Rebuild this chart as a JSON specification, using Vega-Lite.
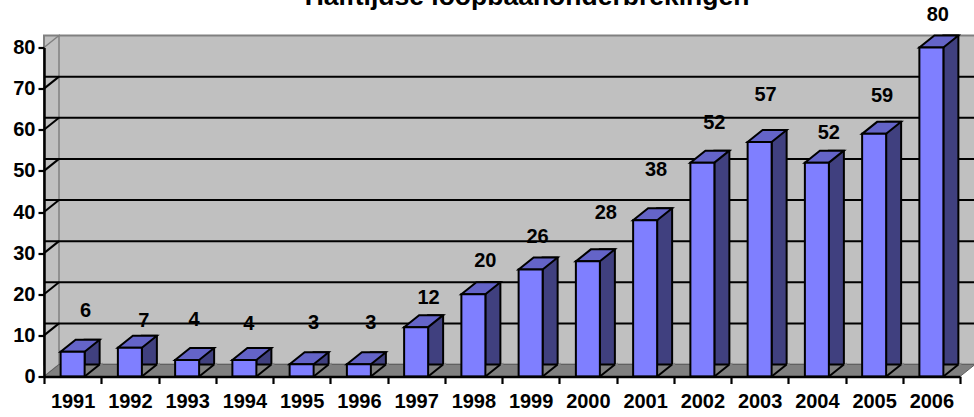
{"$schema":"https://vega.github.io/schema/vega-lite/v6.json","width":916,"height":329,"autosize":"none","padding":{"left":44,"top":47.5,"right":14,"bottom":40.5},"background":"white","view":{"stroke":null},
"title":{"text":"Halftijdse loopbaanonderbrekingen","font":"Liberation Sans","fontSize":26.5,"fontWeight":"bold","color":"black","anchor":"middle","dx":25,"dy":27,"offset":0,"baseline":"alphabetic"},
"config":{"font":"Liberation Sans"},
"data":{"values":[{"year":1991,"value":6},{"year":1992,"value":7},{"year":1993,"value":4},{"year":1994,"value":4},{"year":1995,"value":3},{"year":1996,"value":3},{"year":1997,"value":12},{"year":1998,"value":20},{"year":1999,"value":26},{"year":2000,"value":28},{"year":2001,"value":38},{"year":2002,"value":52},{"year":2003,"value":57},{"year":2004,"value":52},{"year":2005,"value":59},{"year":2006,"value":80}]},
"encoding":{"x":{"field":"year","type":"ordinal","title":null,"sort":null,"scale":{"paddingInner":0,"paddingOuter":0,"domain":[1991,1992,1993,1994,1995,1996,1997,1998,1999,2000,2001,2002,2003,2004,2005,2006]},"axis":{"zindex":2,"tickBand":"extent","labelAngle":0,"labelFont":"Liberation Sans","labelFontWeight":"bold","labelFontSize":20,"labelColor":"black","labelPadding":18,"labelBaseline":"middle","tickSize":7,"tickWidth":2.2,"tickColor":"black","domainColor":"black","domainWidth":2.5,"grid":false}},"y":{"field":"value","type":"quantitative","title":null,"scale":{"domain":[0,80],"nice":false},"axis":{"zindex":2,"values":[0,10,20,30,40,50,60,70,80],"labelFont":"Liberation Sans","labelFontWeight":"bold","labelFontSize":20,"labelColor":"black","labelPadding":3,"tickSize":6,"tickWidth":2.2,"tickColor":"black","domainColor":"black","domainWidth":2.5,"grid":false}}},
"layer":[
{"data":{"values":[{"top":80,"bottom":0}]},"mark":{"type":"rect","fill":"#C0C0C0","stroke":"#808080","strokeWidth":2,"xOffset":15,"x2Offset":15,"yOffset":-12,"y2Offset":-12},"encoding":{"x":null,"y":{"field":"top","type":"quantitative"},"y2":{"field":"bottom"}}},
{"data":{"values":[{"year":1991,"v":0}]},"mark":{"type":"point","shape":"M0,0L15,-12L15,-341L0,-329Z","size":4,"filled":true,"fill":"#C0C0C0","stroke":"#808080","strokeWidth":1.5,"opacity":1},"encoding":{"x":{"field":"year","type":"ordinal","bandPosition":0},"y":{"field":"v","type":"quantitative"}}},
{"data":{"values":[{"v":10},{"v":20},{"v":30},{"v":40},{"v":50},{"v":60},{"v":70}]},"mark":{"type":"rule","color":"black","strokeWidth":2,"xOffset":15,"x2Offset":15,"yOffset":-12},"encoding":{"x":null,"y":{"field":"v","type":"quantitative"}}},
{"data":{"values":[{"year":1991,"v":10},{"year":1991,"v":20},{"year":1991,"v":30},{"year":1991,"v":40},{"year":1991,"v":50},{"year":1991,"v":60},{"year":1991,"v":70}]},"mark":{"type":"point","shape":"M0,0L15,-12","size":4,"filled":false,"stroke":"black","strokeWidth":2,"opacity":1},"encoding":{"x":{"field":"year","type":"ordinal","bandPosition":0},"y":{"field":"v","type":"quantitative"}}},
{"data":{"values":[{"year":1991,"v":0}]},"mark":{"type":"point","shape":"M0,0L15,-12L931,-12L916,0Z","size":4,"filled":true,"fill":"#808080","stroke":"#606060","strokeWidth":1,"opacity":1},"encoding":{"x":{"field":"year","type":"ordinal","bandPosition":0},"y":{"field":"v","type":"quantitative"}}},
{"mark":{"type":"bar","width":15,"xOffset":19.5,"yOffset":-12,"fill":"#40407F","stroke":"black","strokeWidth":2}},
{"mark":{"type":"point","shape":"M11,1L30,1L30,-14Z","size":4,"filled":true,"fill":"#808080","stroke":null,"opacity":1},"encoding":{"y":{"datum":0}}},
{"mark":{"type":"point","shape":"M12,0L27,-12","size":4,"filled":false,"stroke":"black","strokeWidth":2,"opacity":1},"encoding":{"y":{"datum":0}}},
{"mark":{"type":"point","shape":"M-12,0L12,0L27,-12L3,-12Z","size":4,"filled":true,"fill":"#6464C8","stroke":"black","strokeWidth":2,"opacity":1}},
{"mark":{"type":"bar","width":24,"fill":"#7F7FFF","stroke":"black","strokeWidth":2}},
{"transform":[{"filter":"datum.year==1991"}],"mark":{"type":"text","dx":13,"dy":-41,"font":"Liberation Sans","fontWeight":"bold","fontSize":20,"color":"black"},"encoding":{"text":{"field":"value"}}},
{"transform":[{"filter":"datum.year==1992"}],"mark":{"type":"text","dx":14,"dy":-27,"font":"Liberation Sans","fontWeight":"bold","fontSize":20,"color":"black"},"encoding":{"text":{"field":"value"}}},
{"transform":[{"filter":"datum.year==1993"}],"mark":{"type":"text","dx":7,"dy":-40,"font":"Liberation Sans","fontWeight":"bold","fontSize":20,"color":"black"},"encoding":{"text":{"field":"value"}}},
{"transform":[{"filter":"datum.year==1994"}],"mark":{"type":"text","dx":4.5,"dy":-36,"font":"Liberation Sans","fontWeight":"bold","fontSize":20,"color":"black"},"encoding":{"text":{"field":"value"}}},
{"transform":[{"filter":"datum.year==1995"}],"mark":{"type":"text","dx":12,"dy":-41,"font":"Liberation Sans","fontWeight":"bold","fontSize":20,"color":"black"},"encoding":{"text":{"field":"value"}}},
{"transform":[{"filter":"datum.year==1996"}],"mark":{"type":"text","dx":12,"dy":-41,"font":"Liberation Sans","fontWeight":"bold","fontSize":20,"color":"black"},"encoding":{"text":{"field":"value"}}},
{"transform":[{"filter":"datum.year==1997"}],"mark":{"type":"text","dx":12.5,"dy":-29,"font":"Liberation Sans","fontWeight":"bold","fontSize":20,"color":"black"},"encoding":{"text":{"field":"value"}}},
{"transform":[{"filter":"datum.year==1998"}],"mark":{"type":"text","dx":12,"dy":-33,"font":"Liberation Sans","fontWeight":"bold","fontSize":20,"color":"black"},"encoding":{"text":{"field":"value"}}},
{"transform":[{"filter":"datum.year==1999"}],"mark":{"type":"text","dx":7,"dy":-33,"font":"Liberation Sans","fontWeight":"bold","fontSize":20,"color":"black"},"encoding":{"text":{"field":"value"}}},
{"transform":[{"filter":"datum.year==2000"}],"mark":{"type":"text","dx":18,"dy":-48,"font":"Liberation Sans","fontWeight":"bold","fontSize":20,"color":"black"},"encoding":{"text":{"field":"value"}}},
{"transform":[{"filter":"datum.year==2001"}],"mark":{"type":"text","dx":11,"dy":-50,"font":"Liberation Sans","fontWeight":"bold","fontSize":20,"color":"black"},"encoding":{"text":{"field":"value"}}},
{"transform":[{"filter":"datum.year==2002"}],"mark":{"type":"text","dx":12,"dy":-40,"font":"Liberation Sans","fontWeight":"bold","fontSize":20,"color":"black"},"encoding":{"text":{"field":"value"}}},
{"transform":[{"filter":"datum.year==2003"}],"mark":{"type":"text","dx":6,"dy":-47,"font":"Liberation Sans","fontWeight":"bold","fontSize":20,"color":"black"},"encoding":{"text":{"field":"value"}}},
{"transform":[{"filter":"datum.year==2004"}],"mark":{"type":"text","dx":12,"dy":-30,"font":"Liberation Sans","fontWeight":"bold","fontSize":20,"color":"black"},"encoding":{"text":{"field":"value"}}},
{"transform":[{"filter":"datum.year==2005"}],"mark":{"type":"text","dx":8,"dy":-38,"font":"Liberation Sans","fontWeight":"bold","fontSize":20,"color":"black"},"encoding":{"text":{"field":"value"}}},
{"transform":[{"filter":"datum.year==2006"}],"mark":{"type":"text","dx":6.5,"dy":-33,"font":"Liberation Sans","fontWeight":"bold","fontSize":20,"color":"black"},"encoding":{"text":{"field":"value"}}}
]}
